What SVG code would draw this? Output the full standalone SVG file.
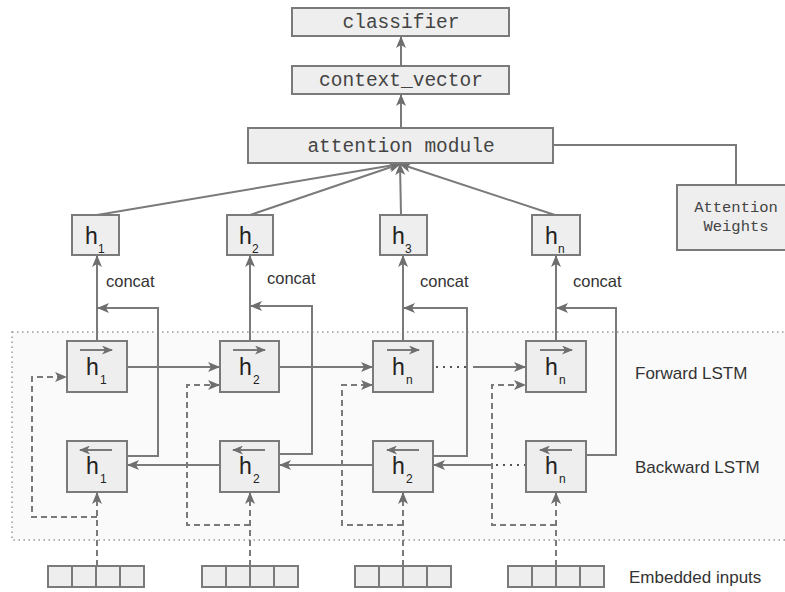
<svg xmlns="http://www.w3.org/2000/svg" width="785" height="592" viewBox="0 0 785 592">
<defs>
<marker id="ah" markerUnits="userSpaceOnUse" markerWidth="12" markerHeight="10" refX="11" refY="5" orient="auto" viewBox="0 0 12 10">
<path d="M0,0 L12,5 L0,10 L3,5 z" fill="#6e6e6e"/>
</marker>
<marker id="ahs" markerUnits="userSpaceOnUse" markerWidth="11" markerHeight="9" refX="10" refY="4.5" orient="auto" viewBox="0 0 11 9">
<path d="M0,0 L11,4.5 L0,9 L3,4.5 z" fill="#6e6e6e"/>
</marker>
</defs>
<style>
.box{fill:#eeeeee;stroke:#7a7a7a;stroke-width:2}
.ln{fill:none;stroke:#7a7a7a;stroke-width:2}
.dash{fill:none;stroke:#7a7a7a;stroke-width:2;stroke-dasharray:6 4}
.dot{fill:none;stroke:#555;stroke-width:2;stroke-dasharray:2 5}
.mono{font-family:"Liberation Mono","Courier New",monospace;fill:#444;text-anchor:middle}
.sans{font-family:"Liberation Sans",Arial,sans-serif;fill:#333}
.h{font-family:"Liberation Sans",Arial,sans-serif;fill:#222;font-size:23px}
.sub{font-family:"Liberation Sans",Arial,sans-serif;fill:#222;font-size:12px}
</style>
<rect width="785" height="592" fill="#ffffff"/>
<rect id="region" x="12" y="332" width="790" height="208" fill="#fafafa" stroke="#999" stroke-width="1.5" stroke-dasharray="1.5 3.5"/>

<g id="connectors">
<line class="ln" x1="401" y1="66" x2="401" y2="37" marker-end="url(#ah)"/>
<line class="ln" x1="401" y1="128" x2="401" y2="95" marker-end="url(#ah)"/>
<polyline class="ln" points="553,145 736,145 736,185"/>
<line class="ln" x1="97" y1="215" x2="400" y2="164" marker-end="url(#ah)"/>
<line class="ln" x1="250" y1="215" x2="400" y2="164" marker-end="url(#ah)"/>
<line class="ln" x1="401" y1="215" x2="400" y2="164" marker-end="url(#ah)"/>
<line class="ln" x1="555" y1="215" x2="400" y2="164" marker-end="url(#ah)"/>
<line class="ln" x1="97" y1="341" x2="97" y2="256" marker-end="url(#ah)"/>
<line class="ln" x1="250" y1="341" x2="250" y2="256" marker-end="url(#ah)"/>
<line class="ln" x1="403" y1="341" x2="403" y2="256" marker-end="url(#ah)"/>
<line class="ln" x1="556" y1="341" x2="556" y2="256" marker-end="url(#ah)"/>
<polyline class="ln" points="127,456 158,456 158,308 98,308" marker-end="url(#ah)"/>
<polyline class="ln" points="279,454 312,454 312,306 251,306" marker-end="url(#ah)"/>
<polyline class="ln" points="433,456 467,456 467,308 404,308" marker-end="url(#ah)"/>
<polyline class="ln" points="586,455 616,455 616,308 557,308" marker-end="url(#ah)"/>
<line class="ln" x1="127" y1="367" x2="219" y2="367" marker-end="url(#ah)"/>
<line class="ln" x1="279" y1="367" x2="372" y2="367" marker-end="url(#ah)"/>
<line class="dot" x1="436" y1="367" x2="466" y2="367"/>
<line class="ln" x1="473" y1="367" x2="525" y2="367" marker-end="url(#ah)"/>
<line class="ln" x1="220" y1="465" x2="128" y2="465" marker-end="url(#ah)"/>
<line class="ln" x1="373" y1="465" x2="280" y2="465" marker-end="url(#ah)"/>
<line class="dot" x1="496" y1="465" x2="526" y2="465"/>
<line class="ln" x1="491" y1="465" x2="434" y2="465" marker-end="url(#ah)"/>
<line class="dash" x1="97" y1="566" x2="97" y2="493" marker-end="url(#ah)"/>
<line class="dash" x1="250" y1="566" x2="250" y2="493" marker-end="url(#ah)"/>
<line class="dash" x1="403" y1="566" x2="403" y2="493" marker-end="url(#ah)"/>
<line class="dash" x1="556" y1="566" x2="556" y2="493" marker-end="url(#ah)"/>
<polyline class="dash" points="97,517 32,517 32,377 66,377" marker-end="url(#ah)"/>
<polyline class="dash" points="250,525 187,525 187,385 219,385" marker-end="url(#ah)"/>
<polyline class="dash" points="403,525 342,525 342,385 372,385" marker-end="url(#ah)"/>
<polyline class="dash" points="556,525 492,525 492,385 525,385" marker-end="url(#ah)"/>
</g>

<g id="classifier"><rect class="box" x="292" y="8" width="217" height="28"/><text class="mono" x="401" y="28" font-size="19.5">classifier</text></g>
<g id="context_vector"><rect class="box" x="292" y="66" width="217" height="28"/><text class="mono" x="401" y="86" font-size="19.5">context_vector</text></g>
<g id="attention_module"><rect class="box" x="248" y="128" width="305" height="35"/><text class="mono" x="401" y="152" font-size="19.5">attention module</text></g>
<g id="attention_weights"><rect class="box" x="677" y="185" width="120" height="65"/><text class="mono" x="736" y="212" font-size="15.5">Attention</text><text class="mono" x="736" y="231" font-size="15.5">Weights</text></g>

<g id="h1"><rect class="box" x="72" y="215" width="47" height="40"/><text class="h" x="85" y="244">h</text><text class="sub" x="98" y="253">1</text></g>
<g id="h2"><rect class="box" x="227" y="215" width="46" height="40"/><text class="h" x="239" y="244">h</text><text class="sub" x="252" y="253">2</text></g>
<g id="h3"><rect class="box" x="380" y="215" width="47" height="40"/><text class="h" x="392" y="244">h</text><text class="sub" x="405" y="253">3</text></g>
<g id="hn"><rect class="box" x="532" y="215" width="48" height="40"/><text class="h" x="545" y="244">h</text><text class="sub" x="558" y="253">n</text></g>

<g id="concat_labels" class="sans" font-size="16.5">
<text x="106" y="287">concat</text>
<text x="267" y="284">concat</text>
<text x="420" y="287">concat</text>
<text x="573" y="287">concat</text>
</g>

<g id="fwd1"><rect class="box" x="67" y="341" width="60" height="51"/><line class="ln" x1="80" y1="350" x2="112" y2="350" marker-end="url(#ahs)"/><text class="h" x="86" y="375">h</text><text class="sub" x="100" y="384">1</text></g>
<g id="fwd2"><rect class="box" x="220" y="341" width="59" height="51"/><line class="ln" x1="233" y1="350" x2="265" y2="350" marker-end="url(#ahs)"/><text class="h" x="239" y="375">h</text><text class="sub" x="253" y="384">2</text></g>
<g id="fwd3"><rect class="box" x="373" y="341" width="60" height="51"/><line class="ln" x1="387" y1="350" x2="419" y2="350" marker-end="url(#ahs)"/><text class="h" x="392" y="375">h</text><text class="sub" x="406" y="384">n</text></g>
<g id="fwd4"><rect class="box" x="526" y="341" width="60" height="51"/><line class="ln" x1="540" y1="350" x2="572" y2="350" marker-end="url(#ahs)"/><text class="h" x="545" y="375">h</text><text class="sub" x="559" y="384">n</text></g>

<g id="bwd1"><rect class="box" x="67" y="441" width="60" height="51"/><line class="ln" x1="112" y1="450" x2="80" y2="450" marker-end="url(#ahs)"/><text class="h" x="86" y="474">h</text><text class="sub" x="100" y="483">1</text></g>
<g id="bwd2"><rect class="box" x="220" y="441" width="59" height="51"/><line class="ln" x1="265" y1="450" x2="233" y2="450" marker-end="url(#ahs)"/><text class="h" x="239" y="474">h</text><text class="sub" x="253" y="483">2</text></g>
<g id="bwd3"><rect class="box" x="373" y="441" width="60" height="51"/><line class="ln" x1="419" y1="450" x2="387" y2="450" marker-end="url(#ahs)"/><text class="h" x="392" y="474">h</text><text class="sub" x="406" y="483">2</text></g>
<g id="bwd4"><rect class="box" x="526" y="441" width="60" height="51"/><line class="ln" x1="572" y1="450" x2="540" y2="450" marker-end="url(#ahs)"/><text class="h" x="545" y="474">h</text><text class="sub" x="559" y="483">n</text></g>

<g id="emb1"><rect class="box" x="48" y="566" width="24" height="21"/><rect class="box" x="72" y="566" width="24" height="21"/><rect class="box" x="96" y="566" width="24" height="21"/><rect class="box" x="120" y="566" width="24" height="21"/></g>
<g id="emb2"><rect class="box" x="202" y="566" width="24" height="21"/><rect class="box" x="226" y="566" width="24" height="21"/><rect class="box" x="250" y="566" width="24" height="21"/><rect class="box" x="274" y="566" width="24" height="21"/></g>
<g id="emb3"><rect class="box" x="355" y="566" width="24" height="21"/><rect class="box" x="379" y="566" width="24" height="21"/><rect class="box" x="403" y="566" width="24" height="21"/><rect class="box" x="427" y="566" width="24" height="21"/></g>
<g id="emb4"><rect class="box" x="508" y="566" width="24" height="21"/><rect class="box" x="532" y="566" width="24" height="21"/><rect class="box" x="556" y="566" width="24" height="21"/><rect class="box" x="580" y="566" width="24" height="21"/></g>

<g id="labels" class="sans" font-size="17">
<text x="635" y="379">Forward LSTM</text>
<text x="635" y="473">Backward LSTM</text>
<text x="629" y="583">Embedded inputs</text>
</g>
</svg>
